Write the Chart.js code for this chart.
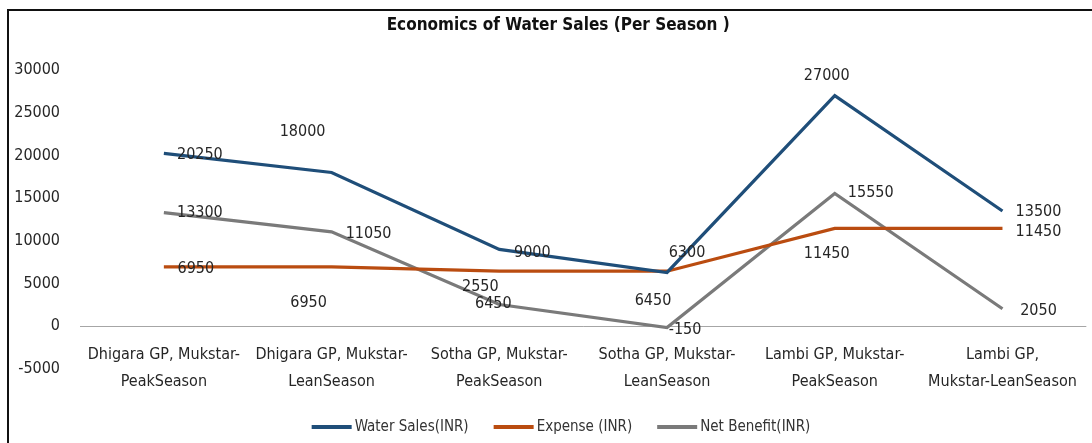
<!DOCTYPE html>
<html><head><meta charset="utf-8">
<script src="https://cdn.jsdelivr.net/npm/chart.js@4/dist/chart.umd.min.js"></script>
<style>
html,body{margin:0;padding:0;background:#fff;}
#wrap{position:relative;width:1092px;height:443px;overflow:hidden;background:#fff;}
#frame{position:absolute;left:7px;top:9px;width:1200px;height:600px;border-top:2px solid #111;border-left:2px solid #111;}
canvas{position:absolute;left:0;top:0;}
</style></head><body>
<div id="wrap"><div id="frame"></div><canvas id="c" width="1092" height="443" style="width:1092px;height:443px"></canvas></div>
<script>
const categories = [
  ["Dhigara GP, Mukstar-", "PeakSeason"],
  ["Dhigara GP, Mukstar-", "LeanSeason"],
  ["Sotha GP, Mukstar-", "PeakSeason"],
  ["Sotha GP, Mukstar-", "LeanSeason"],
  ["Lambi GP, Mukstar-", "PeakSeason"],
  ["Lambi GP,", "Mukstar-LeanSeason"]
];
const seriesNames = ["Water Sales(INR)", "Expense (INR)", "Net Benefit(INR)"];
const waterSales = [20250, 18000, 9000, 6300, 27000, 13500];
const expense = [6950, 6950, 6450, 6450, 11450, 11450];
const netBenefit = [13300, 11050, 2550, -150, 15550, 2050];
const yMin = -5000, yMax = 30000, yStep = 5000;
const titleText = "Economics of Water Sales (Per Season )";

const FONT = "'Liberation Sans Narrow','DejaVu Sans Condensed','Arial Narrow',sans-serif";
const colors = ["#1F4E79", "#BA4C10", "#7A7A7A"];

// label placement offsets (dx, dy from point) per series
const labelOffsets = [
  [[36,2],[-29,-41],[33,3],[20,-20],[-8,-20],[36,1]],
  [[32,2],[-23,36],[-6,33],[-14,30],[-8,25],[36,3]],
  [[36,0],[37,2],[-19,-18],[18,2],[36,-1],[36,2]]
];

const titlePlugin = {
  id: 'customTitle',
  afterDraw(chart) {
    const ctx = chart.ctx;
    ctx.save();
    ctx.font = "bold 17px " + FONT;
    ctx.fillStyle = "#111";
    ctx.textAlign = "center";
    ctx.textBaseline = "middle";
    ctx.fillText(titleText, (chart.chartArea.left + chart.chartArea.right) / 2 - 25, 26);
    ctx.restore();
  }
};

const dataLabelPlugin = {
  id: 'dataLabels',
  afterDatasetsDraw(chart) {
    const ctx = chart.ctx;
    ctx.save();
    ctx.font = "16px " + FONT;
    ctx.fillStyle = "#262626";
    ctx.textAlign = "center";
    ctx.textBaseline = "middle";
    chart.data.datasets.forEach((ds, di) => {
      const meta = chart.getDatasetMeta(di);
      meta.data.forEach((pt, i) => {
        const off = labelOffsets[di][i];
        ctx.fillText(String(ds.data[i]), pt.x + off[0], pt.y + off[1]);
      });
    });
    ctx.restore();
  }
};

const legendPlugin = {
  id: 'customLegend',
  afterDraw(chart) {
    const ctx = chart.ctx;
    ctx.save();
    ctx.font = "15px " + FONT;
    ctx.textBaseline = "middle";
    const boxW = 40, gap = 3, itemGap = 25, y = 427;
    const items = chart.data.datasets.map(ds => ({text: ds.label, color: ds.borderColor, w: ctx.measureText(ds.label).width}));
    let total = 0;
    items.forEach((it, i) => { total += boxW + gap + it.w + (i < items.length - 1 ? itemGap : 0); });
    let x = 561 - total / 2;
    items.forEach(it => {
      ctx.fillStyle = it.color;
      ctx.fillRect(x, y - 2, boxW, 4);
      ctx.fillStyle = "#333";
      ctx.textAlign = "left";
      ctx.fillText(it.text, x + boxW + gap, y);
      x += boxW + gap + it.w + itemGap;
    });
    ctx.restore();
  }
};

const seriesData = [waterSales, expense, netBenefit];
new Chart(document.getElementById('c'), {
  type: 'line',
  data: {
    labels: categories,
    datasets: seriesData.map((d, i) => ({
      label: seriesNames[i],
      data: d,
      borderColor: colors[i],
      backgroundColor: colors[i],
      borderWidth: 3.2,
      pointRadius: 0,
      pointHoverRadius: 0,
      tension: 0,
      fill: false
    }))
  },
  options: {
    responsive: false,
    animation: false,
    layout: { padding: { left: 0, right: 2, top: 70, bottom: 74 } },
    plugins: {
      legend: { display: false },
      tooltip: { enabled: false },
      title: { display: false }
    },
    scales: {
      x: {
        type: 'category',
        offset: true,
        position: { y: 0 },
        grid: { display: false, drawTicks: false },
        border: { display: false },
        ticks: {
          color: "#262626",
          font: { family: FONT, size: 16, lineHeight: 1.7 },
          padding: 15,
          maxRotation: 0,
          autoSkip: false
        }
      },
      y: {
        min: yMin, max: yMax,
        afterFit(scale) { scale.width = 80; },
        grid: {
          drawTicks: false,
          color: c => (c.tick && c.tick.value === 0) ? "#A6A6A6" : "rgba(0,0,0,0)",
          lineWidth: 1
        },
        border: { display: false },
        ticks: {
          stepSize: yStep,
          color: "#262626",
          font: { family: FONT, size: 16 },
          padding: 20,
          callback: v => String(v)
        }
      }
    }
  },
  plugins: [dataLabelPlugin, legendPlugin, titlePlugin]
});
</script>
</body></html>
